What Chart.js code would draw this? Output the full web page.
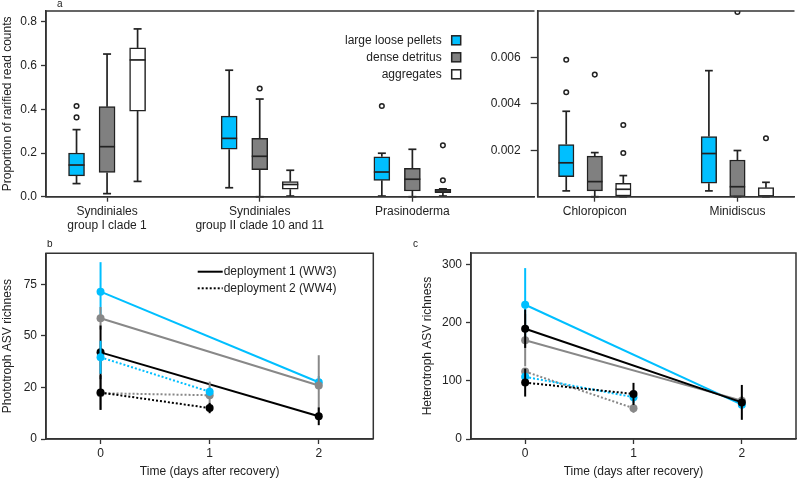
<!DOCTYPE html>
<html>
<head>
<meta charset="utf-8">
<script src="https://cdn.jsdelivr.net/npm/chart.js@4.4.1/dist/chart.umd.min.js"></script>
<style>
  body { margin: 0; background: #fff; }
  #wrap { position: relative; width: 800px; height: 480px; overflow: hidden; }
  canvas { position: absolute; }
</style>
</head>
<body>
<div id="wrap">
  <canvas id="boxLeft" width="540" height="240" style="left:0;top:0"></canvas>
  <canvas id="boxRight" width="320" height="240" style="left:480px;top:0"></canvas>
  <canvas id="photo" width="400" height="240" style="left:0;top:240px"></canvas>
  <canvas id="hetero" width="400" height="240" style="left:400px;top:240px"></canvas>
</div>
<script>
// Panel a data: [lower whisker, q1, median, q3, upper whisker]
const groupsA = [['Syndiniales', 'group I clade 1'], ['Syndiniales', 'group II clade 10 and 11'], 'Prasinoderma'];
const groupsB = ['Chloropicon', 'Minidiscus'];
const materials = ['large loose pellets', 'dense detritus', 'aggregates'];

const pelletsA = [[0.06, 0.095, 0.145, 0.2, 0.307], [0.041, 0.217, 0.267, 0.369, 0.579], [0.003, 0.075, 0.113, 0.183, 0.199]];
const detritusA = [[0.014, 0.111, 0.229, 0.412, 0.653], [0, 0.124, 0.185, 0.267, 0.447], [0, 0.026, 0.08, 0.13, 0.217]];
const aggregatesA = [[0.07, 0.392, 0.626, 0.681, 0.768], [0.003, 0.034, 0.056, 0.069, 0.121], [0.003, 0.018, 0.026, 0.034, 0.036]];
const pelletsOutA = [[0.415, 0.363], [], [0.415]];
const detritusOutA = [[], [0.495], []];
const aggregatesOutA = [[], [], [0.235, 0.075]];

const pelletsB = [[0.00025, 0.00086, 0.00146, 0.00225, 0.00368], [0.00025, 0.00058, 0.00186, 0.00259, 0.00543]];
const detritusB = [[0, 0.00025, 0.00065, 0.00175, 0.0019], [0, 0, 0.00043, 0.00158, 0.00199]];
const aggregatesB = [[0, 0.00003, 0.00032, 0.00058, 0.00091], [0, 0, 0.00003, 0.00039, 0.00062]];
const pelletsOutB = [[0.0059, 0.0045], []];
const detritusOutB = [[0.00526], [0.00796]];
const aggregatesOutB = [[0.00309, 0.00188], [0.00252]];

const yTicksA = [0, 0.2, 0.4, 0.6, 0.8];
const yTicksB = [0.002, 0.004, 0.006];

// Panels b and c: deployment 1 sampled on days 0 and 2, deployment 2 on days 0 and 1
const days1 = [0, 2];
const days2 = [0, 1];
const dayTicks = [0, 1, 2];

const photoPellets1 = [71.4, 27.5], photoPelletsErr1 = [14.3, 3];
const photoDetritus1 = [58.5, 25.9], photoDetritusErr1 = [5.5, 14.7];
const photoAggregates1 = [42.0, 11.0], photoAggregatesErr1 = [13, 4.3];
const photoPellets2 = [39.6, 22.9], photoPelletsErr2 = [8, 2];
const photoDetritus2 = [22.2, 21.2], photoDetritusErr2 = [8, 6.6];
const photoAggregates2 = [22.5, 15.0], photoAggregatesErr2 = [8.4, 2.5];
const photoTicks = [0, 25, 50, 75];
const photoTickLabels = ['0', '20', '50', '75'];

const heteroPellets1 = [231, 59], heteroPelletsErr1 = [63, 6];
const heteroDetritus1 = [170, 66], heteroDetritusErr1 = [45, 8];
const heteroAggregates1 = [189.7, 63], heteroAggregatesErr1 = [33, 30];
const heteroPellets2 = [107, 72], heteroPelletsErr2 = [5, 10];
const heteroDetritus2 = [116, 53], heteroDetritusErr2 = [6, 8];
const heteroAggregates2 = [97, 77.6], heteroAggregatesErr2 = [24, 19];
const heteroTicks = [0, 100, 200, 300];

const BLUE = '#00bfff';
const GREY = '#808080';
const LINE_GREY = '#888888';
const INK = '#222222';
const boxFills = [BLUE, GREY, '#ffffff'];
const lineColors = [BLUE, LINE_GREY, '#000000'];
const shifts = [-0.2, 0, 0.2];

Chart.defaults.font.family = "'Liberation Sans', Arial, sans-serif";
Chart.defaults.font.size = 12;
Chart.defaults.color = INK;
Chart.defaults.animation = false;
Chart.defaults.events = [];
Chart.defaults.plugins.legend.display = false;
Chart.defaults.plugins.tooltip.enabled = false;

const FONT = "12px 'Liberation Sans', Arial, sans-serif";

// Plugins
const frame = {
  id: 'frame',
  afterDraw(chart, args, opts) {
    const { ctx, chartArea: a } = chart;
    ctx.save();
    ctx.strokeStyle = '#333';
    ctx.lineWidth = 1.5;
    ctx.beginPath();
    ctx.moveTo(a.right, a.bottom);
    ctx.lineTo(a.left, a.bottom);
    ctx.lineTo(a.left, a.top);
    ctx.lineTo(a.right, a.top);
    if (!opts.openRight) ctx.lineTo(a.right, a.bottom);
    ctx.stroke();
    ctx.restore();
  }
};

const tag = {
  id: 'tag',
  afterDraw(chart, args, opts) {
    if (!opts.text) return;
    const ctx = chart.ctx;
    ctx.save();
    ctx.font = "10px 'Liberation Sans', Arial, sans-serif";
    ctx.fillStyle = INK;
    ctx.textBaseline = 'middle';
    ctx.fillText(opts.text, opts.x, opts.y);
    ctx.restore();
  }
};

const whiskers = {
  id: 'whiskers',
  afterDatasetDraw(chart, args) {
    const ds = chart.data.datasets[args.index];
    if (!ds.stats) return;
    const { ctx, scales: { y } } = chart;
    const seg = (x1, y1, x2, y2) => { ctx.beginPath(); ctx.moveTo(x1, y1); ctx.lineTo(x2, y2); ctx.stroke(); };
    ctx.save();
    ctx.strokeStyle = INK;
    ctx.lineWidth = 1.7;
    args.meta.data.forEach((bar, i) => {
      const [lo, q1, med, q3, hi] = ds.stats[i].map(v => y.getPixelForValue(v));
      const half = bar.width / 2, cap = bar.width / 4;
      seg(bar.x, hi, bar.x, q3);
      seg(bar.x, q1, bar.x, lo);
      seg(bar.x - cap, hi, bar.x + cap, hi);
      seg(bar.x - cap, lo, bar.x + cap, lo);
      seg(bar.x - half, med, bar.x + half, med);
    });
    ctx.restore();
  }
};

const errorBars = {
  id: 'errorBars',
  beforeDatasetDraw(chart, args) {
    const ds = chart.data.datasets[args.index];
    if (!ds.errors) return;
    const { ctx, scales: { x, y } } = chart;
    ctx.save();
    ctx.strokeStyle = ds.borderColor;
    ctx.lineWidth = 2;
    ds.data.forEach((p, i) => {
      const px = x.getPixelForValue(p.x);
      ctx.beginPath();
      ctx.moveTo(px, y.getPixelForValue(p.y - ds.errors[i]));
      ctx.lineTo(px, y.getPixelForValue(p.y + ds.errors[i]));
      ctx.stroke();
    });
    ctx.restore();
  }
};

const boxKey = {
  id: 'boxKey',
  afterDraw(chart, args, opts) {
    if (!opts.labels) return;
    const ctx = chart.ctx;
    ctx.save();
    ctx.font = FONT;
    ctx.textBaseline = 'middle';
    ctx.textAlign = 'right';
    opts.labels.forEach((label, i) => {
      const yy = opts.y + i * 17;
      ctx.fillStyle = INK;
      ctx.fillText(label, opts.x, yy);
      ctx.fillStyle = opts.colors[i];
      ctx.strokeStyle = INK;
      ctx.lineWidth = 1.5;
      ctx.fillRect(opts.x + 10, yy - 4.5, 9, 9);
      ctx.strokeRect(opts.x + 10, yy - 4.5, 9, 9);
    });
    ctx.restore();
  }
};

const lineKey = {
  id: 'lineKey',
  afterDraw(chart, args, opts) {
    if (!opts.labels) return;
    const ctx = chart.ctx;
    ctx.save();
    ctx.font = FONT;
    ctx.textBaseline = 'middle';
    opts.labels.forEach((label, i) => {
      const yy = opts.y + i * 16.6;
      ctx.strokeStyle = '#000';
      ctx.lineWidth = 2;
      ctx.setLineDash(opts.dashes[i]);
      ctx.beginPath();
      ctx.moveTo(opts.x, yy);
      ctx.lineTo(opts.x + 25, yy);
      ctx.stroke();
      ctx.setLineDash([]);
      ctx.fillStyle = INK;
      ctx.fillText(label, opts.x + 26, yy);
    });
    ctx.restore();
  }
};

function axisGrid(len) {
  return { display: true, drawOnChartArea: false, offset: false, tickLength: len, tickColor: '#333', tickWidth: 1.3 };
}

function fixedTicks(values) {
  return s => { s.ticks = values.map(v => ({ value: v })); };
}

// fix axis size and drop the label overflow padding so chart areas line up exactly
function fixHeight(h) {
  return s => { s.height = h; s.paddingLeft = 0; s.paddingRight = 0; };
}
function fixWidth(w) {
  return s => { s.width = w; s.paddingTop = 0; s.paddingBottom = 0; };
}

// Box plot charts
function boxDatasets(statsList, outList) {
  const sets = [];
  statsList.forEach((stats, m) => {
    sets.push({
      type: 'bar',
      label: materials[m],
      data: stats.map((s, i) => ({ x: i + shifts[m], y: [s[1], s[3]] })),
      stats: stats,
      backgroundColor: boxFills[m],
      borderColor: INK,
      borderWidth: 1.5,
      borderSkipped: false,
      grouped: false,
      order: 2
    });
  });
  outList.forEach((outs, m) => {
    sets.push({
      type: 'scatter',
      label: materials[m] + ' outliers',
      data: outs.flatMap((list, i) => list.map(v => ({ x: i + shifts[m], y: v }))),
      pointRadius: 2.3,
      pointBorderWidth: 1.5,
      pointBackgroundColor: '#fff',
      pointBorderColor: INK,
      order: 1
    });
  });
  return sets;
}

function boxChart(id, groups, statsList, outList, cfg) {
  return new Chart(document.getElementById(id), {
    type: 'bar',
    data: { datasets: boxDatasets(statsList, outList) },
    options: {
      responsive: false,
      barThickness: cfg.barThickness,
      layout: { padding: cfg.padding },
      plugins: { frame: { openRight: cfg.openRight }, tag: cfg.tag || {}, boxKey: cfg.key || {} },
      scales: {
        x: {
          type: 'linear', offset: false, min: -0.4, max: cfg.xMax,
          afterBuildTicks: fixedTicks(groups.map((g, i) => i)),
          afterFit: fixHeight(43.3),
          grid: axisGrid(5),
          border: { display: true, color: '#333', width: 1.5 },
          ticks: { autoSkip: false, maxRotation: 0, padding: 3, font: { size: 12, lineHeight: 1.15 }, callback: v => groups[Math.round(v)] }
        },
        y: {
          type: 'linear', min: 0, max: cfg.yMax,
          afterBuildTicks: fixedTicks(cfg.yTicks),
          afterFit: fixWidth(cfg.yWidth),
          grid: axisGrid(cfg.tickLen),
          border: { display: true, color: '#333', width: 1.5 },
          ticks: { padding: cfg.tickPad, callback: v => v.toFixed(cfg.digits) },
          title: cfg.yTitle ? { display: true, text: cfg.yTitle, padding: { top: 0, bottom: 0 } } : { display: false }
        }
      }
    },
    plugins: [frame, tag, whiskers, boxKey]
  });
}

boxChart('boxLeft', groupsA, [pelletsA, detritusA, aggregatesA], [pelletsOutA, detritusOutA, aggregatesOutA], {
  barThickness: 16, xMax: 2.8, yMax: 0.85, yTicks: yTicksA, yWidth: 46, digits: 1,
  tickLen: 5, tickPad: 4, yTitle: 'Proportion of rarified read counts', openRight: true,
  padding: { left: 0, top: 11, right: 2.3, bottom: 0 },
  tag: { text: 'a', x: 57, y: 4 },
  key: { labels: materials, colors: boxFills, x: 441.7, y: 40.3 }
});

boxChart('boxRight', groupsB, [pelletsB, detritusB, aggregatesB], [pelletsOutB, detritusOutB, aggregatesOutB], {
  barThickness: 15.5, xMax: 1.4, yMax: 0.008, yTicks: yTicksB, yWidth: 57.7, digits: 3,
  tickLen: 7, tickPad: 10, openRight: true,
  padding: { left: 0, top: 11, right: 0, bottom: 0 }
});

// Richness charts
function series(days, values, errors, colorIndex, dashed) {
  return {
    data: days.map((d, i) => ({ x: d, y: values[i] })),
    errors: errors,
    borderColor: lineColors[colorIndex],
    backgroundColor: lineColors[colorIndex],
    pointBackgroundColor: lineColors[colorIndex],
    pointBorderWidth: 0,
    pointRadius: 4,
    borderWidth: 2,
    borderDash: dashed ? [2, 2] : [],
    tension: 0
  };
}

function richnessChart(id, sets, cfg) {
  sets.forEach((s, i) => { s.order = -i; });
  return new Chart(document.getElementById(id), {
    type: 'line',
    data: { datasets: sets },
    options: {
      responsive: false,
      layout: { padding: cfg.padding },
      plugins: { frame: {}, tag: cfg.tag, lineKey: cfg.key || {} },
      scales: {
        x: {
          type: 'linear', min: -0.5, max: 2.5,
          afterBuildTicks: fixedTicks(dayTicks),
          afterFit: fixHeight(41),
          grid: axisGrid(5),
          border: { display: true, color: '#333', width: 1.5 },
          ticks: { padding: 2, callback: v => String(v) },
          title: { display: true, text: 'Time (days after recovery)', padding: { top: 0, bottom: 1 } }
        },
        y: {
          type: 'linear', min: 0, max: cfg.yMax,
          afterBuildTicks: fixedTicks(cfg.yTicks),
          afterFit: fixWidth(cfg.yWidth),
          grid: axisGrid(5),
          border: { display: true, color: '#333', width: 1.5 },
          ticks: { padding: 4, callback: (v, i) => cfg.yLabels[i] },
          title: { display: true, text: cfg.yTitle, padding: { top: 0, bottom: 0 } }
        }
      }
    },
    plugins: [frame, tag, errorBars, lineKey]
  });
}

richnessChart('photo', [
  series(days1, photoPellets1, photoPelletsErr1, 0, false),
  series(days1, photoDetritus1, photoDetritusErr1, 1, false),
  series(days1, photoAggregates1, photoAggregatesErr1, 2, false),
  series(days2, photoDetritus2, photoDetritusErr2, 1, true),
  series(days2, photoPellets2, photoPelletsErr2, 0, true),
  series(days2, photoAggregates2, photoAggregatesErr2, 2, true)
], {
  yMax: 90, yTicks: photoTicks, yLabels: photoTickLabels, yWidth: 46,
  yTitle: 'Phototroph ASV richness',
  padding: { left: 0, top: 13.3, right: 26.7, bottom: 0 },
  tag: { text: 'b', x: 47, y: 4 },
  key: { labels: ['deployment 1 (WW3)', 'deployment 2 (WW4)'], dashes: [[], [2, 2]], x: 197.7, y: 31.7 }
});

richnessChart('hetero', [
  series(days1, heteroPellets1, heteroPelletsErr1, 0, false),
  series(days1, heteroDetritus1, heteroDetritusErr1, 1, false),
  series(days1, heteroAggregates1, heteroAggregatesErr1, 2, false),
  series(days2, heteroDetritus2, heteroDetritusErr2, 1, true),
  series(days2, heteroPellets2, heteroPelletsErr2, 0, true),
  series(days2, heteroAggregates2, heteroAggregatesErr2, 2, true)
], {
  yMax: 320, yTicks: heteroTicks, yLabels: heteroTicks.map(String), yWidth: 51,
  yTitle: 'Heterotroph ASV richness',
  padding: { left: 20, top: 13, right: 2, bottom: 0 },
  tag: { text: 'c', x: 13, y: 4 }
});
</script>
</body>
</html>
